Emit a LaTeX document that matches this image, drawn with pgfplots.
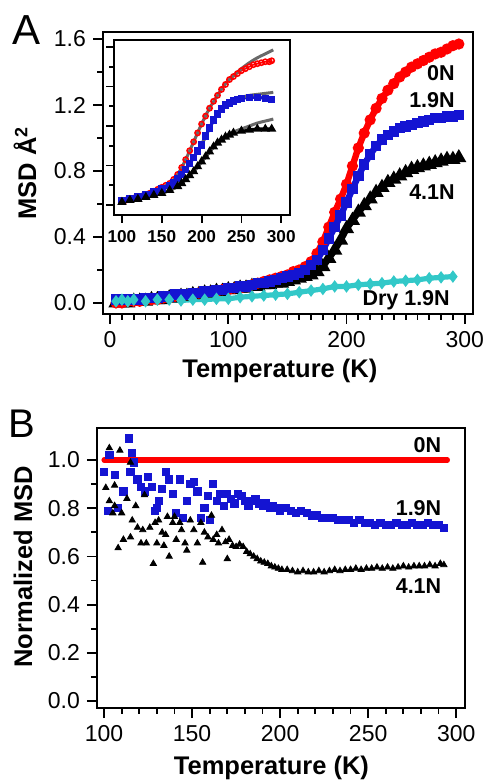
\documentclass[border=0pt]{standalone}
\usepackage{fontspec}
\setmainfont{Liberation Sans}
\usepackage{pgfplots}
\pgfplotsset{compat=1.18}

\definecolor{cRed}{RGB}{255,0,0}
\definecolor{cBlue}{RGB}{20,20,210}
\definecolor{cCyan}{RGB}{50,200,200}
\definecolor{cGray}{RGB}{105,105,105}

\pgfplotsset{
  panel/.style={
    scale only axis, anchor=south west,
    tick align=outside, xtick pos=bottom, ytick pos=left,
    major tick length=5pt, minor tick length=3pt,
    axis line style={line width=1.1pt},
    tick style={line width=0.9pt, black},
    tick label style={font=\fontsize{11.5}{12}\selectfont},
    label style={font=\bfseries\fontsize{12.75}{13}\selectfont},
    /pgf/number format/assume math mode=true,
  },
}
\tikzset{tag/.style={anchor=east, font=\bfseries\fontsize{10.75}{11}\selectfont}}

% panel A: MSD vs temperature
\pgfplotstableread{
T v
5 0.00
10 0.00
15 0.01
20 0.01
25 0.01
30 0.02
35 0.02
40 0.02
45 0.03
50 0.03
55 0.04
60 0.04
65 0.05
70 0.05
75 0.06
80 0.06
85 0.07
90 0.07
95 0.08
100 0.08
105 0.09
110 0.09
115 0.10
120 0.11
125 0.12
130 0.13
135 0.14
140 0.15
145 0.16
150 0.17
155 0.19
160 0.20
165 0.22
170 0.25
175 0.30
180 0.37
185 0.46
190 0.55
195 0.63
200 0.72
205 0.83
210 0.94
215 1.03
220 1.11
225 1.18
230 1.24
235 1.29
240 1.33
245 1.37
250 1.40
255 1.43
260 1.45
265 1.47
270 1.49
275 1.51
280 1.52
285 1.54
290 1.56
295 1.57
}\redA

\pgfplotstableread{
T v
5 0.02
10 0.02
15 0.02
20 0.02
25 0.02
30 0.03
35 0.03
40 0.03
45 0.04
50 0.04
55 0.05
60 0.05
65 0.05
70 0.06
75 0.06
80 0.07
85 0.07
90 0.08
95 0.08
100 0.09
105 0.09
110 0.10
115 0.10
120 0.11
125 0.12
130 0.12
135 0.13
140 0.14
145 0.15
150 0.16
155 0.17
160 0.18
165 0.20
170 0.23
175 0.26
180 0.32
185 0.39
190 0.46
195 0.53
200 0.61
205 0.69
210 0.77
215 0.84
220 0.90
225 0.95
230 0.99
235 1.02
240 1.04
245 1.06
250 1.07
255 1.08
260 1.09
265 1.10
270 1.11
275 1.12
280 1.12
285 1.13
290 1.13
295 1.14
}\blueA

\pgfplotstableread{
T v
5 0.00
10 0.00
15 0.00
20 0.01
25 0.01
30 0.01
35 0.02
40 0.02
45 0.02
50 0.03
55 0.03
60 0.04
65 0.04
70 0.05
75 0.05
80 0.06
85 0.06
90 0.07
95 0.07
100 0.08
105 0.08
110 0.09
115 0.09
120 0.10
125 0.10
130 0.11
135 0.11
140 0.12
145 0.12
150 0.13
155 0.14
160 0.15
165 0.16
170 0.17
175 0.19
180 0.22
185 0.27
190 0.32
195 0.38
200 0.45
205 0.50
210 0.55
215 0.59
220 0.63
225 0.67
230 0.70
235 0.73
240 0.75
245 0.77
250 0.79
255 0.81
260 0.82
265 0.83
270 0.84
275 0.85
280 0.86
285 0.87
290 0.87
295 0.88
}\blackA

\pgfplotstableread{
T v
5 0.01
10 0.02
15 0.01
20 0.02
30 0.01
40 0.02
50 0.02
60 0.015
70 0.02
80 0.02
90 0.025
100 0.025
110 0.035
120 0.04
130 0.045
140 0.05
150 0.055
160 0.065
170 0.075
180 0.085
190 0.10
200 0.10
210 0.11
220 0.115
230 0.12
240 0.13
250 0.135
260 0.14
270 0.15
280 0.155
290 0.16
}\cyanA

% inset
\pgfplotstableread{
T v
100 0.04
105 0.05
110 0.06
115 0.07
120 0.08
125 0.09
130 0.10
135 0.12
140 0.14
145 0.16
150 0.18
155 0.20
160 0.22
165 0.26
170 0.31
175 0.38
180 0.46
185 0.55
190 0.64
195 0.73
200 0.82
205 0.90
210 0.98
215 1.05
220 1.11
225 1.17
230 1.22
235 1.27
240 1.30
245 1.33
250 1.36
255 1.38
260 1.40
265 1.42
270 1.43
275 1.44
280 1.45
285 1.45
288 1.46
}\redI

\pgfplotstableread{
T v
100 0.04
110 0.06
120 0.08
130 0.10
140 0.13
150 0.16
160 0.20
165 0.23
170 0.27
175 0.31
180 0.36
185 0.42
190 0.48
195 0.55
200 0.61
205 0.70
210 0.78
215 0.86
220 0.92
225 0.97
230 1.01
235 1.03
240 1.05
245 1.07
250 1.08
260 1.09
270 1.09
280 1.08
288 1.07
}\blueI

\pgfplotstableread{
T v
100 0.03
110 0.05
120 0.06
130 0.08
140 0.10
150 0.12
160 0.15
170 0.19
175 0.22
180 0.26
185 0.30
190 0.34
195 0.39
200 0.44
205 0.49
210 0.54
215 0.59
220 0.63
225 0.66
230 0.69
235 0.71
240 0.73
250 0.75
260 0.76
270 0.77
280 0.77
288 0.77
}\blackI

\pgfplotstableread{
T a b c
100 0.04 0.04 0.03
120 0.08 0.08 0.06
140 0.14 0.13 0.10
160 0.22 0.20 0.15
170 0.31 0.27 0.19
180 0.46 0.36 0.26
190 0.64 0.48 0.34
200 0.82 0.61 0.44
210 0.98 0.78 0.54
220 1.11 0.92 0.63
230 1.23 1.02 0.69
240 1.31 1.06 0.74
250 1.38 1.09 0.77
260 1.44 1.11 0.80
270 1.49 1.12 0.83
280 1.53 1.13 0.85
290 1.57 1.14 0.87
}\grayI

% panel B: normalized MSD
\pgfplotstableread{
T v
100 1.00
295 1.00
}\redB

\pgfplotstableread{
T v
100 0.95
102 0.79
103 1.02
106 0.94
108 0.80
111 0.87
114 1.09
115 0.95
116 1.03
117 0.99
119 0.92
121 0.89
123 0.87
125 0.93
127 0.89
129 0.79
130 0.80
131 0.83
133 0.88
135 0.95
137 0.92
139 0.86
141 0.78
143 0.92
145 0.76
147 0.83
149 0.90
151 0.91
153 0.87
155 0.76
157 0.80
159 0.85
160 0.75
162 0.90
164 0.83
166 0.86
168 0.81
170 0.86
172 0.84
174 0.82
176 0.86
178 0.85
180 0.83
182 0.81
184 0.83
186 0.84
188 0.82
190 0.81
192 0.82
194 0.80
196 0.81
198 0.80
200 0.79
203 0.80
206 0.79
209 0.78
212 0.79
215 0.78
218 0.77
221 0.77
224 0.76
227 0.76
230 0.76
233 0.75
236 0.75
239 0.75
242 0.74
245 0.75
248 0.74
251 0.74
254 0.73
257 0.74
260 0.73
263 0.73
266 0.74
269 0.73
272 0.73
275 0.74
278 0.73
281 0.73
284 0.74
287 0.73
290 0.73
293 0.72
}\blueB

\pgfplotstableread{
T v
101 0.885
103 1.05
103 0.83
105 0.78
106 0.895
106 0.81
108 0.635
109 1.04
110 0.78
111 0.67
113 0.84
115 0.99
115 0.68
116 0.75
118 0.81
119 0.72
121 0.655
122 0.71
123 0.855
124 0.655
126 0.72
128 0.57
129 0.74
130 0.655
131 0.75
133 0.70
134 0.645
135 0.69
136 0.765
137 0.60
139 0.74
140 0.765
141 0.67
143 0.74
144 0.71
146 0.655
147 0.625
149 0.75
151 0.71
153 0.655
155 0.74
156 0.575
157 0.70
159 0.68
161 0.77
162 0.67
164 0.69
165 0.655
167 0.71
169 0.66
170 0.59
171 0.67
173 0.645
175 0.64
177 0.65
179 0.64
181 0.62
183 0.61
185 0.60
187 0.59
189 0.58
191 0.575
193 0.57
195 0.56
197 0.555
199 0.55
201 0.545
204 0.545
207 0.54
210 0.535
213 0.54
216 0.535
219 0.535
222 0.54
225 0.535
228 0.54
231 0.545
234 0.54
237 0.545
240 0.545
243 0.55
246 0.545
249 0.55
252 0.55
255 0.555
258 0.55
261 0.555
264 0.55
267 0.555
270 0.56
273 0.555
276 0.56
279 0.56
282 0.56
285 0.565
288 0.56
291 0.57
293 0.565
}\blackB

\begin{document}
\begin{tikzpicture}
\path[use as bounding box] (0,0) rectangle (244pt,390pt);

% ---- panel A ----
\begin{axis}[panel,
  at={(51.5pt,233pt)}, width=185pt, height=141pt,
  xmin=-6, xmax=307, ymin=-0.067, ymax=1.643,
  xtick={0,100,200,300}, minor x tick num=9,
  ytick={0,0.4,0.8,1.2,1.6}, minor y tick num=1,
  yticklabel style={/pgf/number format/fixed, /pgf/number format/fixed zerofill, /pgf/number format/precision=1},
  xlabel={Temperature (K)}, ylabel={MSD Å\textsuperscript{2}},
  xlabel style={at={(rel axis cs:0.478,-0.202)}, anchor=center},
  ylabel style={at={(rel axis cs:-0.211,0.5)}, anchor=center},
]
\addplot[black, line width=3.2pt, mark=triangle*, mark size=1.2pt] table[x=T, y=v] {\blackA};
\addplot[cRed, line width=3.2pt, mark=*, mark size=1.1pt] table[x=T, y=v] {\redA};
\addplot[cBlue, line width=3.2pt, mark=square*, mark size=1.0pt] table[x=T, y=v] {\blueA};
\addplot[cCyan, line width=2.6pt, mark=diamond*, mark size=1.0pt] table[x=T, y=v] {\cyanA};
\node[tag] at (axis cs:297.5,1.394) {0N};
\node[tag] at (axis cs:297.5,1.23) {1.9N};
\node[tag] at (axis cs:297.5,0.673) {4.1N};
\node[tag] at (axis cs:293.3,0.018) {Dry 1.9N};
\end{axis}

% ---- inset ----
\begin{axis}[panel,
  at={(57pt,282.5pt)}, width=88pt, height=87.5pt,
  axis background/.style={fill=white},
  xmin=90, xmax=311, ymin=-0.10, ymax=1.67,
  xtick={100,150,200,250,300},
  ytick={0,0.4,0.8,1.2,1.6}, minor y tick num=1, yticklabels={},
  major tick length=4pt, minor tick length=2.5pt,
  xticklabel style={font=\bfseries\fontsize{8.6}{9}\selectfont},
]
\addplot[cRed, line width=0.8pt, mark=o, mark size=1.3pt] table[x=T, y=v] {\redI};
\addplot[cBlue, line width=1.6pt, mark=square*, mark size=1.1pt] table[x=T, y=v] {\blueI};
\addplot[black, line width=1.6pt, mark=triangle*, mark size=1.1pt] table[x=T, y=v] {\blackI};
\addplot[cGray, line width=1.5pt, smooth] table[x=T, y=a] {\grayI};
\addplot[cGray, line width=1.5pt, smooth] table[x=T, y=b] {\grayI};
\addplot[cGray, line width=1.5pt, smooth] table[x=T, y=c] {\grayI};
\end{axis}

% ---- panel B ----
\begin{axis}[panel,
  at={(48.5pt,36pt)}, width=184pt, height=140pt,
  xmin=96, xmax=305, ymin=-0.029, ymax=1.133,
  xtick={100,150,...,300}, minor x tick num=4,
  ytick={0,0.2,...,1.0}, minor y tick num=1,
  yticklabel style={/pgf/number format/fixed, /pgf/number format/fixed zerofill, /pgf/number format/precision=1},
  xlabel={Temperature (K)}, ylabel={Normalized MSD},
  xlabel style={at={(rel axis cs:0.474,-0.214)}, anchor=center},
  ylabel style={at={(rel axis cs:-0.201,0.504)}, anchor=center},
]
\addplot[cRed, line width=2.6pt, line cap=round] table[x=T, y=v] {\redB};
\addplot[only marks, cBlue, mark=square*, mark size=1.8pt] table[x=T, y=v] {\blueB};
\addplot[only marks, black, mark=triangle*, mark size=1.8pt] table[x=T, y=v] {\blackB};
\node[tag] at (axis cs:295.5,1.062) {0N};
\node[tag] at (axis cs:295.5,0.80) {1.9N};
\node[tag] at (axis cs:295.5,0.477) {4.1N};
\end{axis}

\node[font=\fontsize{21}{21}\selectfont] at (13.5pt,375pt) {A};
\node[font=\fontsize{20}{20}\selectfont] at (11pt,178pt) {B};
\end{tikzpicture}
\end{document}
